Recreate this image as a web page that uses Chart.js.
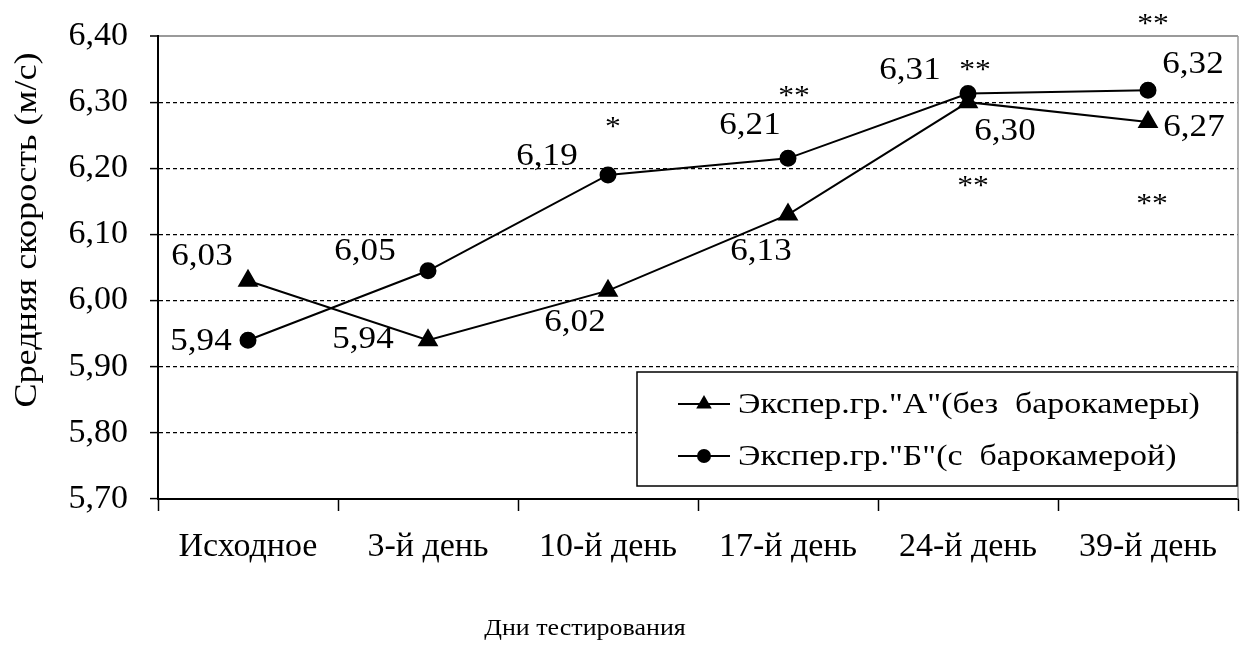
<!DOCTYPE html>
<html><head><meta charset="utf-8">
<script src="https://cdn.jsdelivr.net/npm/chart.js@4.4.0/dist/chart.umd.min.js"></script>
<style>html,body{margin:0;padding:0;background:#fff;} #wrap{width:1243px;height:650px;position:relative;}</style>
</head><body><div id="wrap"><canvas id="c"></canvas></div>
<script>
// ---- data ----
const categories = ['Исходное', '3-й день', '10-й день', '17-й день', '24-й день', '39-й день'];
const seriesA = [6.03, 5.94, 6.015, 6.13, 6.30, 6.27];
const seriesB = [5.94, 6.045, 6.19, 6.215, 6.313, 6.318];
const labelsA = ['6,03', '5,94', '6,02', '6,13', '6,30', '6,27'];
const labelsB = ['5,94', '6,05', '6,19', '6,21', '6,31', '6,32'];
const marksA = ['', '', '', '', '**', '**'];
const marksB = ['', '', '*', '**', '**', '**'];
const yTicks = [5.70, 5.80, 5.90, 6.00, 6.10, 6.20, 6.30, 6.40];
const seriesNames = ['Экспер.гр."А"(без  барокамеры)', 'Экспер.гр."Б"(с  барокамерой)'];
const yTitle = 'Средняя скорость (м/с)';
const xTitle = 'Дни тестирования';

// ---- presentation ----
const FONT = '"Liberation Serif", "Times New Roman", serif';
const SX = 1.13; // horizontal widening of the serif text
const labelOffsetsA = [[-46,-24],[-65,0],[-33,32],[-27,37],[37,30],[46,6]];
const labelOffsetsB = [[-47,2],[-63,-19],[-61,-18],[-38,-33],[-58,-23],[45,-25]];
const markOffsetsA = [[0,0],[0,0],[0,0],[0,0],[5,82],[4,81]];
const markOffsetsB = [[0,0],[0,0],[5,-49],[6,-64],[7,-25],[5,-68]];

function wideText(ctx, text, x, y, align) {
  ctx.save();
  ctx.translate(x, y);
  ctx.scale(SX, 1);
  ctx.textAlign = align || 'center';
  ctx.fillText(text, 0, 0);
  ctx.restore();
}

const annotPlugin = {
  id: 'annot',
  afterDatasetsDraw(chart) {
    const ctx = chart.ctx;
    const ca = chart.chartArea;
    ctx.save();
    // right border of plot area
    ctx.strokeStyle = '#9a9a9a';
    ctx.lineWidth = 1.5;
    ctx.beginPath();
    ctx.moveTo(ca.right, ca.top);
    ctx.lineTo(ca.right, ca.bottom);
    ctx.stroke();

    ctx.fillStyle = '#000';
    ctx.textBaseline = 'middle';
    const groups = [
      [0, labelsA, labelOffsetsA, marksA, markOffsetsA],
      [1, labelsB, labelOffsetsB, marksB, markOffsetsB]
    ];
    groups.forEach(([di, labs, offs, marks, moffs]) => {
      const meta = chart.getDatasetMeta(di);
      meta.data.forEach((pt, i) => {
        ctx.font = '31px ' + FONT;
        wideText(ctx, labs[i], pt.x + offs[i][0], pt.y + offs[i][1]);
        if (marks[i]) {
          ctx.font = '28px ' + FONT;
          wideText(ctx, marks[i], pt.x + moffs[i][0], pt.y + moffs[i][1] + 2);
        }
      });
    });

    // custom legend box
    const bw = 600, bh = 114;
    const bx = ca.right - 1 - bw, by = ca.bottom - 13 - bh;
    ctx.fillStyle = '#fff';
    ctx.fillRect(bx, by, bw, bh);
    ctx.strokeStyle = '#000';
    ctx.lineWidth = 1.5;
    ctx.strokeRect(bx, by, bw, bh);
    chart.data.datasets.forEach((ds, k) => {
      const cy = by + 32 + k * 52;
      ctx.strokeStyle = '#000';
      ctx.lineWidth = 2;
      ctx.beginPath();
      ctx.moveTo(bx + 41, cy);
      ctx.lineTo(bx + 93, cy);
      ctx.stroke();
      ctx.fillStyle = '#000';
      Chart.helpers.drawPoint(ctx, {pointStyle: ds.pointStyle, radius: ds.pointStyle === 'triangle' ? 9 : 7, rotation: 0}, bx + 67, cy);
      ctx.fillStyle = '#000';
      ctx.textBaseline = 'middle';
      ctx.font = '30px ' + FONT;
      wideText(ctx, ds.label, bx + 101, cy + 1, 'left');
    });

    // axis titles
    ctx.fillStyle = '#000';
    ctx.textBaseline = 'middle';
    ctx.font = '23px ' + FONT;
    wideText(ctx, xTitle, 585, 629);
    ctx.save();
    ctx.translate(28, 230);
    ctx.rotate(-Math.PI / 2);
    ctx.font = '32px ' + FONT;
    wideText(ctx, yTitle, 0, 0);
    ctx.restore();
    ctx.restore();
  }
};

new Chart(document.getElementById('c'), {
  type: 'line',
  data: {
    labels: categories,
    datasets: [
      { label: seriesNames[0], data: seriesA, borderColor: '#000', backgroundColor: '#000',
        borderWidth: 2, pointStyle: 'triangle', pointRadius: 10, pointHoverRadius: 10, tension: 0, fill: false },
      { label: seriesNames[1], data: seriesB, borderColor: '#000', backgroundColor: '#000',
        borderWidth: 2, pointStyle: 'circle', pointRadius: 7.5, pointHoverRadius: 7.5, tension: 0, fill: false }
    ]
  },
  options: {
    responsive: true,
    maintainAspectRatio: false,
    animation: false,
    layout: { autoPadding: false, padding: { top: 36, right: 5, left: 0, bottom: 0 } },
    plugins: { legend: { display: false }, tooltip: { enabled: false }, title: { display: false } },
    scales: {
      x: {
        type: 'category',
        offset: true,
        grid: { offset: true, drawOnChartArea: false, drawTicks: true, tickLength: 12, tickColor: '#000', tickWidth: 1.5 },
        border: { color: '#000', width: 2 },
        ticks: { color: '#000', font: { family: FONT, size: 34 }, padding: 16, maxRotation: 0, autoSkip: false },
        afterFit: s => { s.height = 151; s.paddingLeft = 0; s.paddingRight = 0; }
      },
      y: {
        min: 5.7, max: 6.4,
        afterBuildTicks: s => { s.ticks = yTicks.map(v => ({ value: v })); },
        grid: {
          color: c => (c.tick && Math.abs(c.tick.value - 6.4) < 1e-6) ? '#9a9a9a' : '#000',
          lineWidth: c => (c.tick && Math.abs(c.tick.value - 6.4) < 1e-6) ? 2 : 1.2,
          tickColor: '#000', tickLength: 8, tickWidth: 1.5
        },
        border: { color: '#000', width: 2, dash: c => (c.tick && Math.abs(c.tick.value - 6.4) < 1e-6) ? [] : [4, 3] },
        ticks: { color: '#000', font: { family: FONT, size: 34 }, padding: 22,
          callback: v => Number(v).toFixed(2).replace('.', ',') },
        afterFit: s => { s.width = 158; s.paddingTop = 0; s.paddingBottom = 0; }
      }
    }
  },
  plugins: [annotPlugin]
});
</script>
</body></html>
